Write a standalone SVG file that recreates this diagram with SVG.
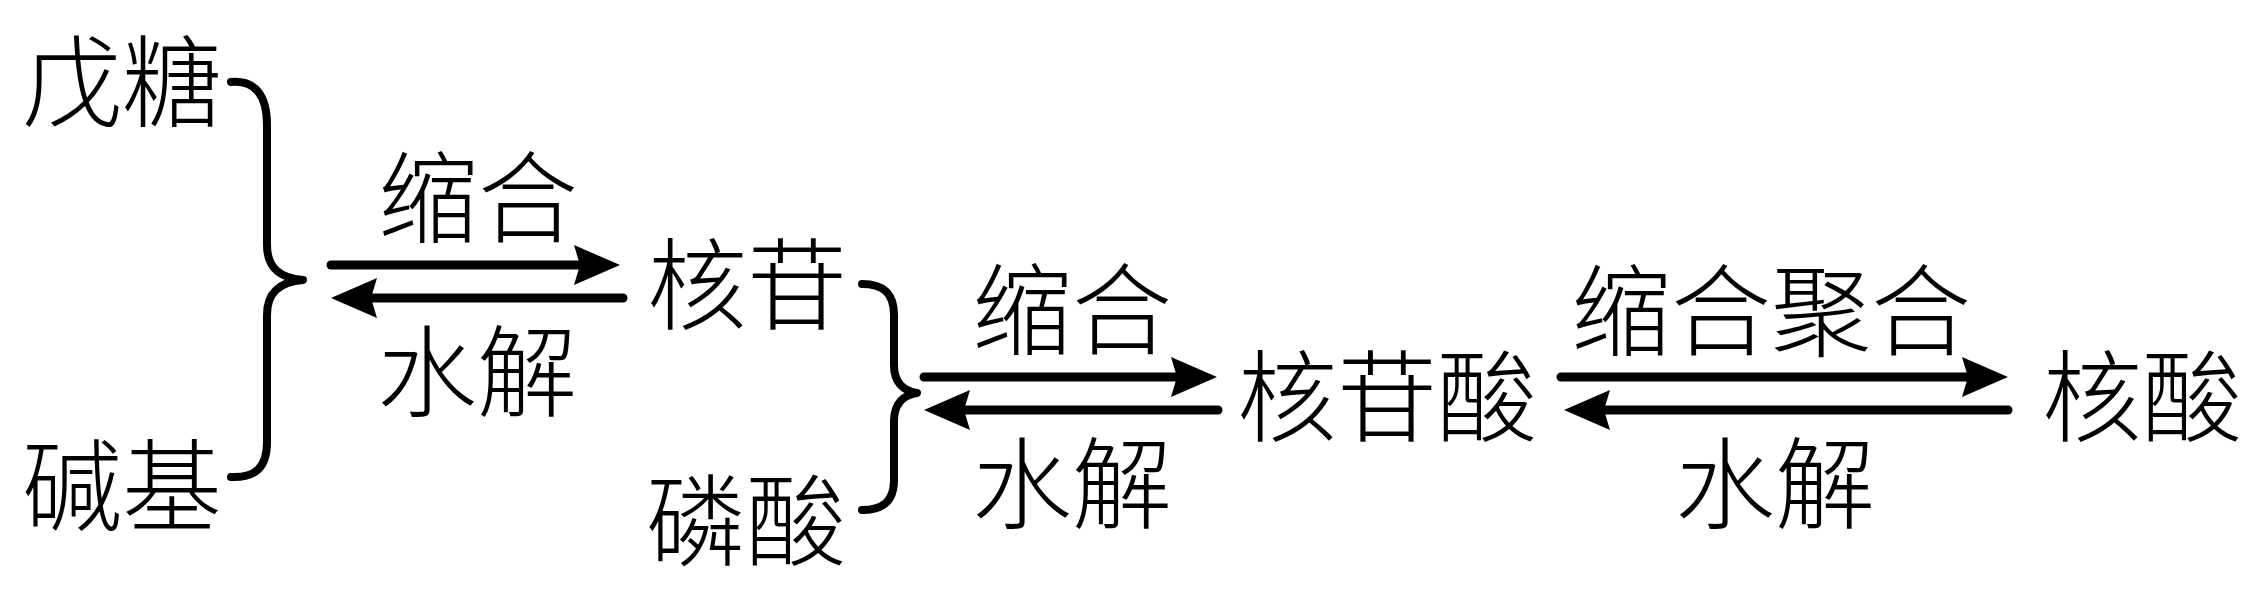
<svg xmlns="http://www.w3.org/2000/svg" width="2260" height="590" viewBox="0 0 2260 590">
<defs>
<style>
.t{font-family:"Noto Sans CJK SC","Noto Sans CJK JP",sans-serif;font-size:100px;font-weight:300;fill:#000;text-anchor:middle;dominant-baseline:central}
.a{fill:none;stroke:#000;stroke-width:9;stroke-linecap:round}
.b{fill:none;stroke:#000;stroke-width:8;stroke-linecap:round;stroke-linejoin:round}
</style>
<marker id="ah" markerUnits="userSpaceOnUse" viewBox="0 -22 48 44" markerWidth="48" markerHeight="44" refX="6" refY="0" orient="auto">
<path d="M0,-20 L46,0 L0,20 L6,0 Z" fill="#000"/>
</marker>
</defs>
<rect width="2260" height="590" fill="#fff"/>
<g id="n-wutang"><text class="t" x="122" y="75">戊糖</text></g>
<g id="n-jianji"><text class="t" x="122" y="479">碱基</text></g>
<g id="n-hegan"><text class="t" x="747" y="278">核苷</text></g>
<g id="n-linsuan"><text class="t" x="746" y="514">磷酸</text></g>
<g id="n-hegansuan"><text class="t" x="1387" y="390">核苷酸</text></g>
<g id="n-hesuan"><text class="t" x="2142" y="390">核酸</text></g>
<g id="labels">
<text class="t" x="478" y="191">缩合</text>
<text class="t" x="477" y="365">水解</text>
<text class="t" x="1072" y="303">缩合</text>
<text class="t" x="1072" y="477">水解</text>
<text class="t" x="1771" y="304">缩合聚合</text>
<text class="t" x="1775" y="477">水解</text>
</g>
<g id="connectors">
<path class="b" d="M231,82 C255,80 267,95 267,125 L267,245 C267,268 280,278 303,280 C280,282 267,292 267,315 L267,442 C267,468 255,478 231,477"/>
<path class="b" d="M862,284 C882,284 894,292 894,315 L894,365 C894,382 903,391 917,393 C903,395 894,404 894,421 L894,480 C894,502 882,510 862,510"/>
<path class="a" marker-end="url(#ah)" d="M331,265 L580,265"/>
<path class="a" marker-end="url(#ah)" d="M623,298 L371,298"/>
<path class="a" marker-end="url(#ah)" d="M924,377 L1177,377"/>
<path class="a" marker-end="url(#ah)" d="M1218,410 L964,410"/>
<path class="a" marker-end="url(#ah)" d="M1561,377 L1968,377"/>
<path class="a" marker-end="url(#ah)" d="M2008,410 L1604,410"/>
</g>
</svg>
